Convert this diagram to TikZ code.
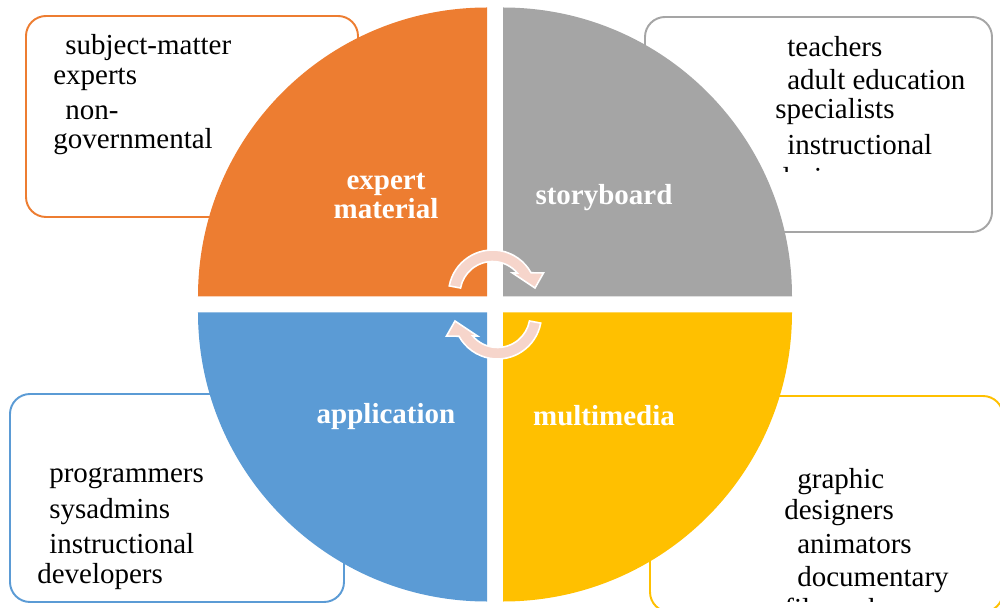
\documentclass[tikz,border=0pt]{standalone}
\usepackage{fontspec}
\setmainfont{Liberation Serif}

\definecolor{exporange}{HTML}{ED7D31}
\definecolor{storygray}{HTML}{A5A5A5}
\definecolor{appblue}{HTML}{5B9BD5}
\definecolor{mediayellow}{HTML}{FFC000}
\definecolor{arrowpink}{HTML}{F6D5CB}

\tikzset{
  rolebox/.style={line width=1.1pt, rounded corners=0.4cm, fill=white},
  role/.style={anchor=base west, inner sep=0pt, font=\fontsize{16.5}{17}\selectfont},
  phase/.style={align=center, inner sep=0pt, text=white, font=\fontsize{16.5}{17}\selectfont\bfseries},
  swaparrow/.pic={
    \filldraw[fill=arrowpink, draw=white, line width=0.9pt]
      (169.4:32.5) -- (169.4:44) arc[start angle=169.4, end angle=28.9, radius=44]
      -- (51,21) -- (42.5,6) -- (20,21) -- (40.3:32.5)
      arc[start angle=40.3, end angle=169.4, radius=32.5] -- cycle;
  }
}

\begin{document}
\begin{tikzpicture}[x=0.02cm, y=0.02cm]
\useasboundingbox (-495,-303.5) rectangle (505,304.5);
%\draw (-495,-303.5) rectangle (505,304.5);

% boxes with the people behind each phase
\draw[rolebox, draw=exporange] (-469,87.5) rectangle (-137,288.5);
\draw[rolebox, draw=storygray] (150,72.5) rectangle (497,287.5);
\draw[rolebox, draw=appblue] (-485,-297.5) rectangle (-151,-89.5);
\draw[rolebox, draw=mediayellow] (155,-307.5) rectangle (508,-91.5);

\foreach \t/\x/\y [count=\i] in {subject-matter/-430/249.5, experts/-442/219.5,
    non-/-430/184.5, governmental/-442/155.5}
  \node[role] (sme\i) at (\x,\y) {\t};

\begin{scope}
\clip (150,132.5) rectangle (497,287.5);
\foreach \t/\x/\y [count=\i] in {teachers/292/247.5, adult education/292/214.5,
    specialists/280/185.5, instructional/292/149.5, designers/280/116.5}
  \node[role] (edu\i) at (\x,\y) {\t};
\end{scope}

\foreach \t/\x/\y [count=\i] in {programmers/-446/-178, sysadmins/-446/-214,
    instructional/-446/-249, developers/-458/-279}
  \node[role] (dev\i) at (\x,\y) {\t};

\begin{scope}
\clip (155,-296.5) rectangle (508,-91.5);
\foreach \t/\x/\y [count=\i] in {graphic/302/-184, designers/289/-215,
    animators/302/-249, documentary/302/-282, filmmakers/289/-313.5}
  \node[role] (art\i) at (\x,\y) {\t};
\end{scope}

% the four quarters
\fill[exporange] (-8,8) -- (-297,8) arc[start angle=180, end angle=90, radius=289] -- cycle;
\fill[storygray] (8,8) -- (8,297) arc[start angle=90, end angle=0, radius=289] -- cycle;
\fill[mediayellow] (8,-8) -- (297,-8) arc[start angle=0, end angle=-90, radius=289] -- cycle;
\fill[appblue] (-8,-8) -- (-8,-297) arc[start angle=270, end angle=180, radius=289] -- cycle;

\node[phase] (expert) at (-109,108.5) {expert\\material};
\node[phase] (story) at (109,106.5) {storyboard};
\node[phase] (app) at (-109,-112) {application};
\node[phase] (media) at (109,-111) {multimedia};

\pic at (-2.5,10.5) {swaparrow};
\pic[rotate=180] at (2.5,-10.5) {swaparrow};
\end{tikzpicture}
\end{document}
